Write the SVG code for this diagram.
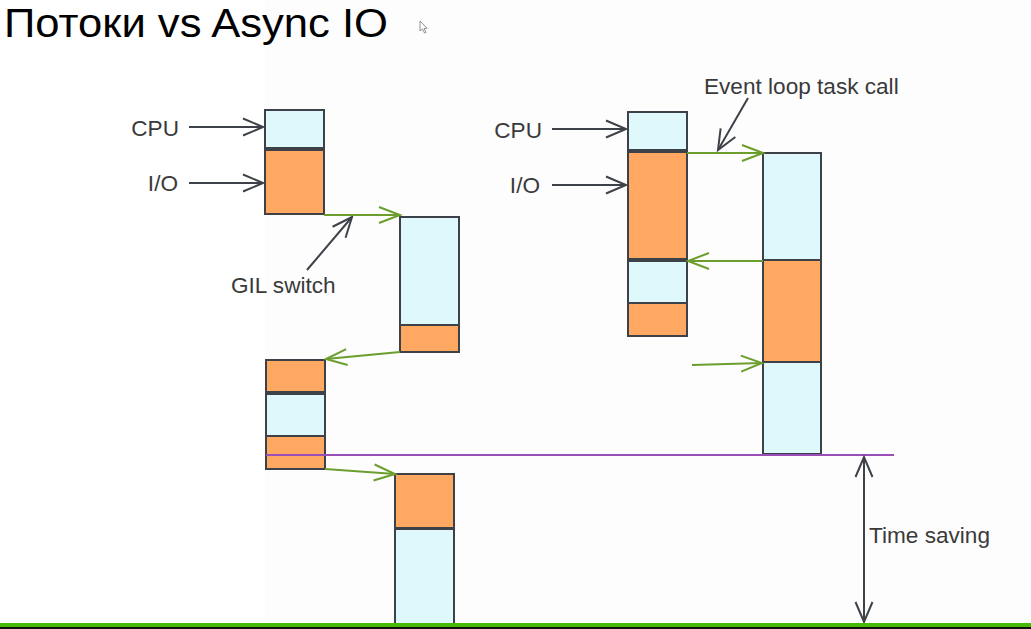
<svg xmlns="http://www.w3.org/2000/svg" width="1031" height="629" viewBox="0 0 1031 629">
<style>
.cpu{fill:#def8fc;stroke:#3d4248;stroke-width:2}
.io{fill:#fea862;stroke:#3d4248;stroke-width:2}
.lbl{font-family:"Liberation Sans",Arial,sans-serif;font-size:22.6px;fill:#3a3a3a}
.gray{stroke:#3d4248;stroke-width:2;fill:none}
.green{stroke:#6b9e2c;stroke-width:2;fill:none}
</style>
<defs>
<marker id="ah" markerUnits="userSpaceOnUse" orient="auto-start-reverse" markerWidth="24" markerHeight="20" viewBox="-22 -10 24 20" refX="0" refY="0" overflow="visible">
<path d="M-20,-8.5 L0,0 L-20,8.5" fill="none" stroke="#3d4248" stroke-width="2"/>
</marker>
<marker id="ag" markerUnits="userSpaceOnUse" orient="auto" markerWidth="24" markerHeight="20" viewBox="-22 -10 24 20" refX="0" refY="0" overflow="visible">
<path d="M-21,-8 L0,0 L-21,8" fill="none" stroke="#6b9e2c" stroke-width="2"/>
</marker>
</defs>
<rect width="1031" height="629" fill="#fefdfe"/>
<rect width="265" height="623" fill="#ffffff"/>
<text x="4" y="37" font-family="'Liberation Sans',Arial,sans-serif" font-size="41" fill="#000" textLength="384" lengthAdjust="spacingAndGlyphs">Потоки vs Async IO</text>
<path d="M420,21 L420,31 L422.5,29 L424.5,33 L426,32.3 L424,28.5 L427,28.3 Z" fill="#fff" stroke="#777" stroke-width="0.8"/>

<g id="threads-main">
<rect class="cpu" x="265" y="110" width="59" height="38"/>
<rect class="io" x="265" y="150" width="59" height="64"/>
</g>
<g id="threads-second">
<rect class="cpu" x="400" y="217" width="59" height="108"/>
<rect class="io" x="400" y="325" width="59" height="27"/>
</g>
<g id="threads-main-2">
<rect class="io" x="266" y="360" width="59" height="32"/>
<rect class="cpu" x="266" y="394" width="59" height="42"/>
<rect class="io" x="266" y="436" width="59" height="33"/>
</g>
<g id="threads-second-2">
<rect class="io" x="395" y="474" width="59" height="54"/>
<rect class="cpu" x="395" y="529" width="59" height="97"/>
</g>
<g id="async-main">
<rect class="cpu" x="628" y="112" width="59" height="38"/>
<rect class="io" x="628" y="152" width="59" height="107"/>
<rect class="cpu" x="628" y="261" width="59" height="42"/>
<rect class="io" x="628" y="303" width="59" height="33"/>
</g>
<g id="async-task">
<rect class="cpu" x="763" y="153" width="58" height="107"/>
<rect class="io" x="763" y="260" width="58" height="102"/>
<rect class="cpu" x="763" y="362" width="58" height="92"/>
</g>

<g id="labels">
<text class="lbl" x="179" y="136" text-anchor="end">CPU</text>
<text class="lbl" x="178" y="191" text-anchor="end">I/O</text>
<text class="lbl" x="231" y="293">GIL switch</text>
<text class="lbl" x="542" y="138" text-anchor="end">CPU</text>
<text class="lbl" x="540" y="193" text-anchor="end">I/O</text>
<text class="lbl" x="704" y="94">Event loop task call</text>
<text class="lbl" x="869" y="543">Time saving</text>
</g>

<g id="connectors">
<line class="gray" x1="189" y1="127" x2="263" y2="127" marker-end="url(#ah)"/>
<line class="gray" x1="189" y1="183" x2="263" y2="183" marker-end="url(#ah)"/>
<line class="gray" x1="307" y1="270" x2="352" y2="217" marker-end="url(#ah)"/>
<line class="gray" x1="552" y1="129" x2="626" y2="129" marker-end="url(#ah)"/>
<line class="gray" x1="552" y1="185" x2="626" y2="185" marker-end="url(#ah)"/>
<line class="gray" x1="748" y1="98" x2="718" y2="150" marker-end="url(#ah)"/>
<line class="green" x1="324" y1="215" x2="400" y2="215" marker-end="url(#ag)"/>
<line class="green" x1="400" y1="352" x2="326" y2="359" marker-end="url(#ag)"/>
<line class="green" x1="325" y1="469" x2="395" y2="474" marker-end="url(#ag)"/>
<line class="green" x1="687" y1="153" x2="763" y2="153" marker-end="url(#ag)"/>
<line class="green" x1="763" y1="261" x2="688" y2="261" marker-end="url(#ag)"/>
<line class="green" x1="692" y1="365" x2="762" y2="363" marker-end="url(#ag)"/>
<line x1="266" y1="455" x2="894" y2="455" stroke="#9a4fb8" stroke-width="2"/>
<line class="gray" x1="864" y1="457" x2="864" y2="622" marker-start="url(#ah)" marker-end="url(#ah)"/>
</g>

<rect x="0" y="623" width="1031" height="4" fill="#47bb00"/>
<rect x="0" y="627" width="1031" height="2" fill="#111"/>
</svg>
